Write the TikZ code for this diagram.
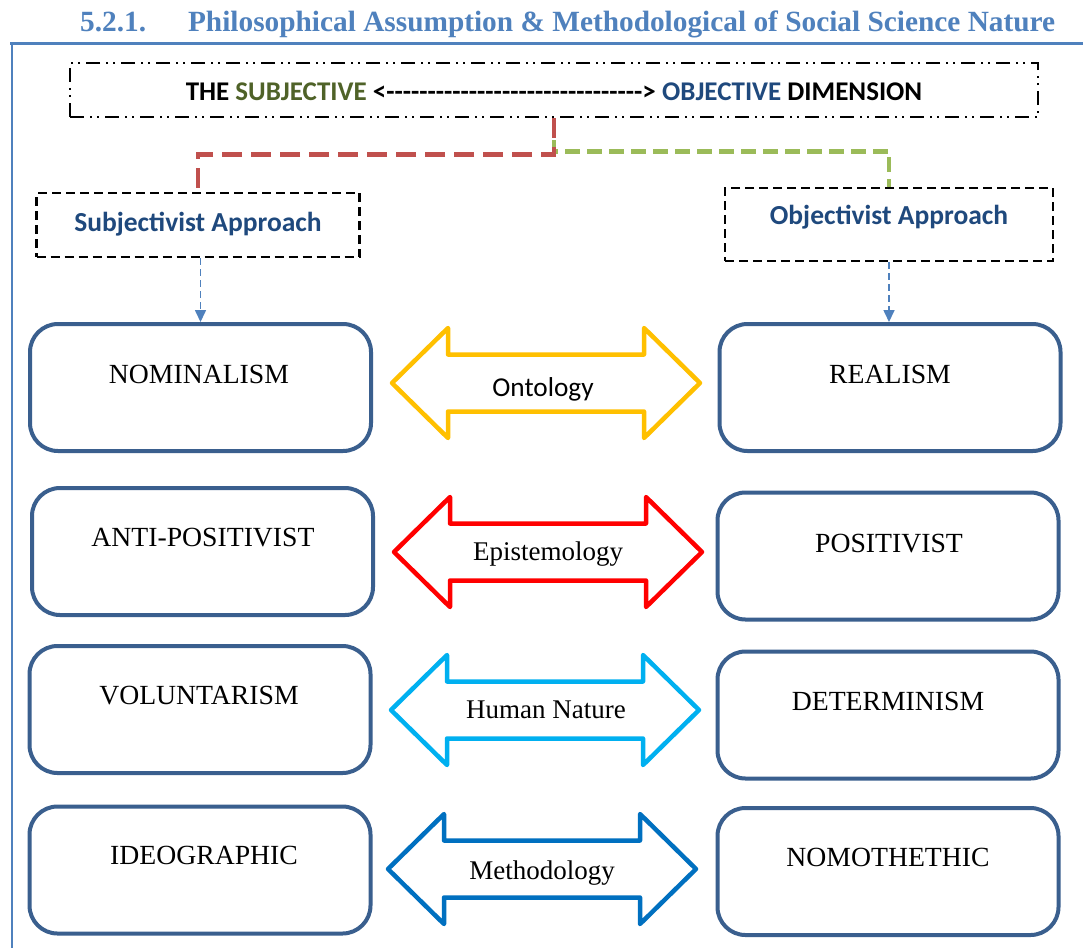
\documentclass[tikz,border=0pt]{standalone}
\usepackage{fontspec}
\setmainfont{Liberation Serif}
\newfontfamily\calibri{Carlito}
\usetikzlibrary{arrows.meta,calc}

\definecolor{headblue}{HTML}{4F81BD}
\definecolor{boxblue}{HTML}{3A5F8E}
\definecolor{navy}{HTML}{1F497D}
\definecolor{olive}{HTML}{4F6228}
\definecolor{linkred}{HTML}{C0504D}
\definecolor{linkgreen}{HTML}{9BBB59}
\definecolor{ontocol}{HTML}{FFC000}
\definecolor{epistcol}{HTML}{FF0000}
\definecolor{humancol}{HTML}{00B0F0}
\definecolor{methcol}{HTML}{0070C0}

\tikzset{
  conceptbox/.style={draw=boxblue, line width=4pt, rounded corners=28pt, fill=white,
    minimum width=341pt, minimum height=127pt, inner sep=0pt},
  concepttext/.style={font=\fontsize{27.7}{30}\selectfont, text=black, inner sep=0pt, anchor=base},
  approachbox/.style={draw=black, line width=2.5pt, dash pattern=on 9pt off 5pt,
    inner sep=0pt},
  approachtext/.style={font=\calibri\bfseries\fontsize{27.5}{30}\selectfont, text=navy,
    inner sep=0pt, anchor=base},
  feed/.style={draw=headblue, line width=1.6pt, dash pattern=on 7pt off 4pt,
    -{Triangle[length=12pt,width=11pt]}},
  redlink/.style={draw=linkred, line width=4.5pt, dash pattern=on 20pt off 9pt},
  greenlink/.style={draw=linkgreen, line width=4.5pt, dash pattern=on 15pt off 7pt},
  band/.style={draw=#1, line width=4.5pt, line join=round, fill=white},
  bandtext/.style={inner sep=0pt, anchor=base, font=\fontsize{27}{30}\selectfont},
}

% outline of a two-headed block arrow around a centre point
\newcommand\dualarrow[2]{%
  \draw[band=#2, shift={(#1)}]
    (-154,0) -- (-98,-55) -- (-98,-28.5) -- (98,-28.5) -- (98,-55) -- (154,0)
    -- (98,55) -- (98,28.5) -- (-98,28.5) -- (-98,55) -- cycle;}

\begin{document}
\begin{tikzpicture}[x=1pt, y=-1pt]
\useasboundingbox (0,0) rectangle (1083,948);
\fill[white] (0,0) rectangle (1083,948);

% heading and page rules
\node[anchor=base west, inner sep=0pt, text=headblue,
      font=\bfseries\fontsize{28}{30}\selectfont] (title) at (80,31)
  {\resizebox{975pt}{!}{5.2.1.\hspace{40pt}Philosophical Assumption \& Methodological of Social Science Nature}};
\coordinate (ruleL) at (10,43);
\coordinate (ruleR) at (1083,43);
\coordinate (ruleB) at (12,948);
\draw[headblue, line width=3pt] (ruleL) -- (ruleR);
\draw[headblue, line width=2pt] (12,43) -- (ruleB);

% dimension banner
\node[draw=black, line width=2.5pt,
      dash pattern=on 14pt off 6pt on 2pt off 5pt on 2pt off 6pt,
      minimum width=968pt, minimum height=54pt, inner sep=0pt] (top) at (554,90) {};
\node[inner sep=0pt, anchor=base, font=\calibri\bfseries\fontsize{27}{30}\selectfont]
  (topT) at (554,100)
  {THE \textcolor{olive}{SUBJECTIVE} <-------------------------------> \textcolor{navy}{OBJECTIVE} DIMENSION};

% approach boxes
\node[approachbox, minimum width=323pt, minimum height=64pt] (subj) at (198,225) {};
\node[approachtext] (subjT) at (198,231) {Subjectivist Approach};
\node[approachbox, minimum width=328pt, minimum height=73pt] (obj) at (889,224.5) {};
\node[approachtext] (objT) at (889,224) {Objectivist Approach};

% links from the banner to the approaches
\draw[greenlink] (top.south) -- ($(top.south)+(0,33)$) -| (obj.north);
\draw[redlink] (top.south) -- ($(top.south)+(0,36)$) -| ([yshift=-5pt]subj.north);

% concept boxes
\node[conceptbox] (nom) at (200.5,387.5) {};
\node[conceptbox] (real) at (890,387.5) {};
\node[conceptbox] (anti) at (202.5,551.5) {};
\node[conceptbox] (pos) at (888,556) {};
\node[conceptbox] (vol) at (200,709.5) {};
\node[conceptbox] (det) at (888,715) {};
\node[conceptbox] (ideo) at (200,870) {};
\node[conceptbox] (nomo) at (888,871.5) {};

\node[concepttext] (nomT) at (199,383) {NOMINALISM};
\node[concepttext] (realT) at (890,383) {REALISM};
\node[concepttext] (antiT) at (203,546) {ANTI-POSITIVIST};
\node[concepttext] (posT) at (889,552) {POSITIVIST};
\node[concepttext] (volT) at (199,704) {VOLUNTARISM};
\node[concepttext] (detT) at (888,710) {DETERMINISM};
\node[concepttext] (ideoT) at (204,864) {IDEOGRAPHIC};
\node[concepttext] (nomoT) at (888,866) {NOMOTHETHIC};

% approach-to-concept feeds
\draw[feed] (subj.south -| nom.north) -- (nom.north);
\draw[feed] (obj.south) -- (obj.south |- real.north);

% the four dimensions
\dualarrow{546,383}{ontocol}
\dualarrow{548,552}{epistcol}
\dualarrow{545,710}{humancol}
\dualarrow{542,869}{methcol}
\node[bandtext, font=\calibri\fontsize{27.3}{30}\selectfont] (onto) at (543,396) {Ontology};
\node[bandtext] (epist) at (548,560) {Epistemology};
\node[bandtext] (human) at (546,718) {Human Nature};
\node[bandtext] (meth) at (542,879) {Methodology};
\end{tikzpicture}
\end{document}
